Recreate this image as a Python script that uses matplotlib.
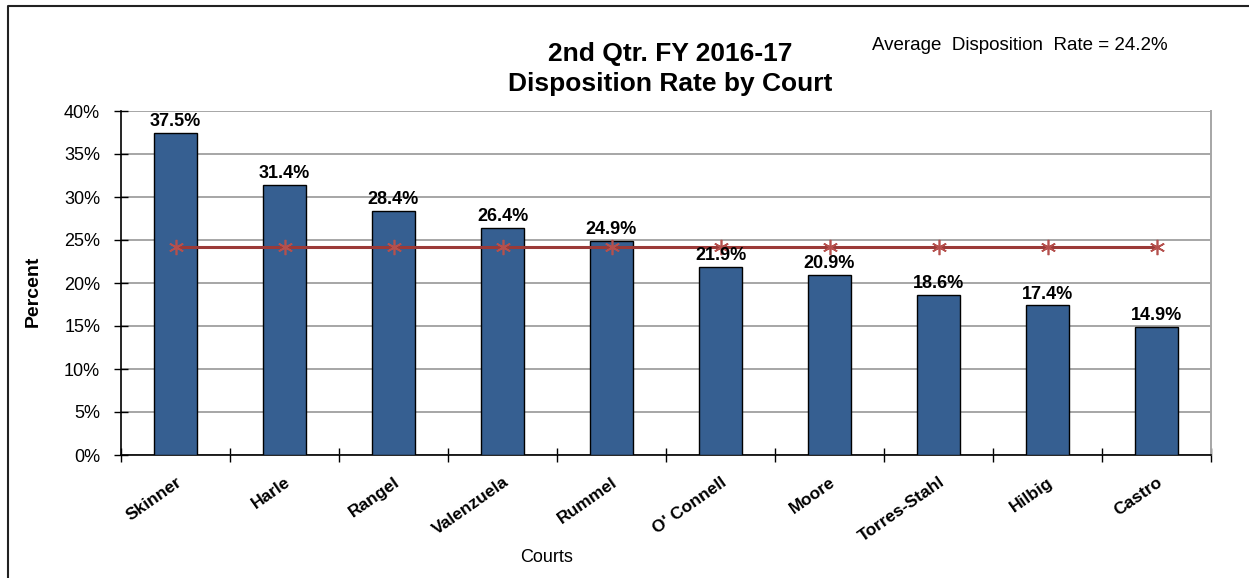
import matplotlib.pyplot as plt
from matplotlib.lines import Line2D

courts = ['Skinner', 'Harle', 'Rangel', 'Valenzuela', 'Rummel',
          "O' Connell", 'Moore', 'Torres-Stahl', 'Hilbig', 'Castro']
rates = [37.5, 31.4, 28.4, 26.4, 24.9, 21.9, 20.9, 18.6, 17.4, 14.9]
average = 24.2
yticks = [0, 5, 10, 15, 20, 25, 30, 35, 40]

narrow = ['Liberation Sans Narrow', 'Liberation Sans', 'DejaVu Sans']
wide = ['Liberation Sans', 'DejaVu Sans']

fig = plt.figure(figsize=(12.49, 5.78), dpi=100)
ax = fig.add_axes([121 / 1249, 1 - 455 / 578, 1090 / 1249, 344 / 578])

x = list(range(len(courts)))
ax.bar(x, rates, width=0.4, color='#365F91', edgecolor='black', linewidth=1, zorder=3)

# valeurs au-dessus des barres
for xi, v in zip(x, rates):
    ax.annotate(f'{v:.1f}%', (xi, v), xytext=(0, 2), textcoords='offset points',
                ha='center', va='bottom', fontsize=13, fontweight='bold',
                family=narrow, zorder=5)

# ligne moyenne
ax.plot(x, [average] * len(x), color='#9B3A38', linewidth=2.2, zorder=4,
        marker=(6, 2, 0), markersize=11, markeredgecolor='#B5504D',
        markeredgewidth=1.2)

ax.set_xlim(-0.5, len(courts) - 0.5)
ax.set_ylim(0, 40)
ax.set_yticks(yticks)
ax.set_yticklabels([f'{t}%' for t in yticks], family=narrow, fontsize=13)
ax.set_xticks([i - 0.5 for i in range(len(courts) + 1)])
ax.set_xticklabels([])
ax.set_xticks(x, minor=True)
ax.set_xticklabels(courts, minor=True, rotation=35, ha='right', va='top',
                   rotation_mode='anchor', family=wide, fontsize=12.5,
                   fontweight='bold')
ax.tick_params(axis='x', which='minor', length=0, pad=14)
ax.tick_params(axis='x', which='major', direction='inout', length=10, width=1)
ax.tick_params(axis='y', direction='inout', length=10, width=1, pad=10)

ax.grid(axis='y', color='#A6A6A6', linewidth=1.4, zorder=0)
ax.spines['top'].set_visible(False)
ax.spines['right'].set_color('#A6A6A6')
ax.spines['right'].set_linewidth(1.4)
ax.spines['left'].set_linewidth(1.2)
ax.spines['bottom'].set_linewidth(1.2)

fig.text(33 / 1249, 1 - 291 / 578, 'Percent', rotation=90, ha='center', va='center',
         fontsize=14, fontweight='bold', family=wide)
fig.text(547 / 1249, 1 - 557 / 578, 'Courts', ha='center', va='center',
         fontsize=13, family=narrow)
fig.text(670 / 1249, 1 - 69 / 578, '2nd Qtr. FY 2016-17\nDisposition Rate by Court',
         ha='center', va='center', fontsize=19, fontweight='bold', family=narrow,
         linespacing=1.35)
fig.text(1020 / 1249, 1 - 46 / 578, 'Average  Disposition  Rate = 24.2%',
         ha='center', va='center', fontsize=13.5, family=narrow)

# cadre
fig.add_artist(Line2D([8 / 1249, 8 / 1249, 1], [0, 1 - 6 / 578, 1 - 6 / 578],
                      color='#222222', linewidth=1.5, transform=fig.transFigure))

fig.savefig('out.png', dpi=100)
